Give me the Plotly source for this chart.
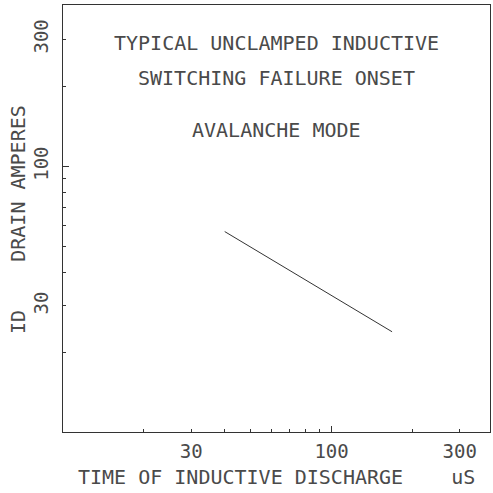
import math
import plotly.graph_objects as go

# Data (log-log axes)
time_us = [40, 168]          # time of inductive discharge (uS)
drain_amps = [57, 24]        # ID drain amperes

x_range = [10, 389]
y_range = [10.1, 403]

x_label_vals = [30, 100, 300]
x_label_text = ["30", "100", "300"]
y_label_vals = [30, 100, 300]
y_label_text = ["30", "100", "300"]

x_minor_vals = [20, 30, 40, 50, 60, 70, 80, 90, 100, 200, 300]
y_minor_vals = [20, 30, 40, 50, 60, 70, 80, 90, 100, 200, 300]
major_vals = [100]

title_lines = ["TYPICAL UNCLAMPED INDUCTIVE", "SWITCHING FAILURE ONSET", "AVALANCHE MODE"]
x_title = "TIME OF INDUCTIVE DISCHARGE    uS"
y_title = "ID    DRAIN AMPERES"

FONT = "DejaVu Sans Mono"
TXT = "#4a4a4a"
LN = "#333333"
FS = 20
TICK_FS = 19

L, R, T, B = 63, 3, 5, 61
W = H = 493
PW = W - L - R
PH = H - T - B


def px_to_paper_y(py):
    return (H - B - py) / PH


def px_to_paper_x(px):
    return (px - L) / PW


fig = go.Figure()
fig.add_trace(go.Scatter(x=time_us, y=drain_amps, mode="lines",
                         line=dict(color=LN, width=1), showlegend=False, hoverinfo="skip"))
fig.add_trace(go.Scatter(x=time_us, y=drain_amps, mode="lines", xaxis="x2", yaxis="y2",
                         line=dict(color="rgba(0,0,0,0)", width=0), showlegend=False, hoverinfo="skip"))

lx = [math.log10(v) for v in x_range]
ly = [math.log10(v) for v in y_range]

common = dict(showgrid=False, zeroline=False, linecolor=LN, linewidth=1)

fig.update_layout(
    width=W, height=H,
    margin=dict(l=L, r=R, t=T, b=B),
    paper_bgcolor="white", plot_bgcolor="white",
    font=dict(family=FONT, size=FS, color=TXT),
    xaxis=dict(type="log", range=lx, **common, mirror=True, showline=True,
               tickmode="array", tickvals=x_label_vals, ticktext=x_label_text,
               ticks="", ticklabelstandoff=2, automargin=False,
               tickfont=dict(family=FONT, size=TICK_FS, color=TXT),
               minor=dict(tickmode="array", tickvals=x_minor_vals, ticks="inside",
                          ticklen=3, tickcolor=LN, tickwidth=1)),
    yaxis=dict(type="log", range=ly, **common, mirror=True, showline=True,
               tickmode="array", tickvals=y_label_vals, ticktext=y_label_text,
               ticks="", tickangle=-90, ticklabelstandoff=6, automargin=False,
               tickfont=dict(family=FONT, size=TICK_FS, color=TXT),
               minor=dict(tickmode="array", tickvals=y_minor_vals, ticks="inside",
                          ticklen=3, tickcolor=LN, tickwidth=1)),
    xaxis2=dict(type="log", range=lx, overlaying="x", side="bottom", showgrid=False,
                zeroline=False, showline=False, tickmode="array", tickvals=major_vals,
                ticks="inside", ticklen=6, tickcolor=LN, showticklabels=False),
    yaxis2=dict(type="log", range=ly, overlaying="y", side="left", showgrid=False,
                zeroline=False, showline=False, tickmode="array", tickvals=major_vals,
                ticks="inside", ticklen=6, tickcolor=LN, showticklabels=False),
)

title_px = [43, 78, 130]
for txt, py in zip(title_lines, title_px):
    fig.add_annotation(text=txt, xref="paper", yref="paper", x=0.5, y=px_to_paper_y(py),
                       showarrow=False, xanchor="center", yanchor="middle",
                       font=dict(family=FONT, size=FS, color=TXT))

fig.add_annotation(text=x_title, xref="paper", yref="paper", x=px_to_paper_x(276),
                   y=px_to_paper_y(477), showarrow=False, xanchor="center", yanchor="middle",
                   borderpad=0, font=dict(family=FONT, size=20, color=TXT))
fig.add_annotation(text=y_title, xref="paper", yref="paper", x=px_to_paper_x(18),
                   y=px_to_paper_y(220), showarrow=False, xanchor="center", yanchor="middle",
                   textangle=-90, font=dict(family=FONT, size=FS, color=TXT))

fig.write_html("out.html", config={"displayModeBar": False},
               post_script="document.body.style.margin='0';")
